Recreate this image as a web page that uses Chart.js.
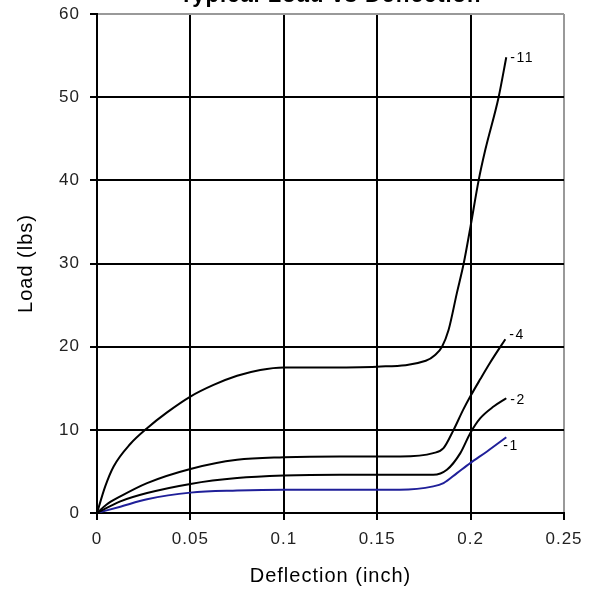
<!DOCTYPE html>
<html>
<head>
<meta charset="utf-8">
<script src="https://cdn.jsdelivr.net/npm/chart.js@4/dist/chart.umd.min.js"></script>
<style>
	html, body { margin: 0; padding: 0; background: #fff; overflow: hidden; }
	#wrap { position: absolute; left: 0; top: -24px; width: 595px; height: 614px; }
</style>
</head>
<body>
<div id="wrap"><canvas id="chart-area"></canvas></div>
<script>
// curve values (deflection in inch, load in lbs)
var defl11 = [0, 0.0044, 0.0089, 0.0178, 0.0268, 0.0375, 0.05, 0.0624, 0.075, 0.0874, 0.1, 0.12, 0.15, 0.176, 0.181, 0.1847, 0.1882, 0.1927, 0.1963, 0.2, 0.2043, 0.2079, 0.215, 0.2191];
var load11 = [0, 3.2, 5.6, 8.3, 10.2, 12.1, 14.0, 15.4, 16.5, 17.2, 17.5, 17.5, 17.6, 18.3, 19.0, 20.0, 22.0, 26.5, 30.0, 34.5, 40.0, 43.7, 50.0, 54.8];

var defl4 = [0, 0.005, 0.0125, 0.0268, 0.05, 0.075, 0.1, 0.13, 0.1624, 0.18, 0.1855, 0.1909, 0.196, 0.1998, 0.2052, 0.2105, 0.2186];
var load4 = [0, 1.0, 2.0, 3.6, 5.3, 6.4, 6.7, 6.8, 6.8, 7.2, 7.8, 10.0, 12.4, 14.0, 16.1, 18.1, 20.9];

var defl2 = [0, 0.0125, 0.0268, 0.05, 0.075, 0.1, 0.13, 0.162, 0.18, 0.1873, 0.1945, 0.1998, 0.2052, 0.2123, 0.2191];
var load2 = [0, 1.4, 2.4, 3.5, 4.2, 4.5, 4.6, 4.6, 4.6, 5.2, 7.2, 9.6, 11.4, 12.8, 13.8];

var defl1 = [0, 0.0125, 0.0268, 0.05, 0.075, 0.1, 0.13, 0.162, 0.18, 0.1855, 0.1927, 0.1998, 0.2088, 0.2191];
var load1 = [0, 0.76, 1.65, 2.45, 2.7, 2.8, 2.8, 2.8, 3.2, 3.6, 4.8, 6.0, 7.4, 9.1];

var seriesNames = ['-11', '-4', '-2', '-1'];
var xTicks = [0, 0.05, 0.1, 0.15, 0.2, 0.25];
var yTicks = [0, 10, 20, 30, 40, 50, 60];

function toPoints(xs, ys) {
	var pts = [];
	for (var i = 0; i < xs.length; i++) {
		pts.push({ x: xs[i], y: ys[i] });
	}
	return pts;
}

function line(name, xs, ys, color) {
	return {
		label: name,
		data: toPoints(xs, ys),
		borderColor: color,
		borderWidth: 2,
		pointRadius: 0,
		fill: false,
		cubicInterpolationMode: 'monotone'
	};
}

// the old excel look has a bit of spacing between letters
var spacing = {
	id: 'spacing',
	beforeUpdate: function (chart) { chart.ctx.letterSpacing = '1px'; },
	beforeDraw: function (chart) { chart.ctx.letterSpacing = '1px'; }
};

// little "-11" etc labels at the end of each curve
var endLabels = {
	id: 'endLabels',
	afterDatasetsDraw: function (chart) {
		var ctx = chart.ctx;
		var offsets = [[4, 1], [4, -4], [4, 2], [-3, 9]];
		ctx.save();
		ctx.font = '14px "Liberation Sans", Arial, sans-serif';
		ctx.fillStyle = '#000';
		ctx.textBaseline = 'middle';
		ctx.letterSpacing = '1.5px';
		chart.data.datasets.forEach(function (ds, i) {
			var pts = chart.getDatasetMeta(i).data;
			var last = pts[pts.length - 1];
			ctx.fillText(ds.label, last.x + offsets[i][0], last.y + offsets[i][1]);
		});
		ctx.restore();
	}
};

Chart.defaults.font.family = '"Liberation Sans", Arial, sans-serif';
Chart.defaults.color = '#000';

var config = {
	type: 'line',
	data: {
		datasets: [
			line(seriesNames[0], defl11, load11, '#000'),
			line(seriesNames[1], defl4, load4, '#000'),
			line(seriesNames[2], defl2, load2, '#000'),
			line(seriesNames[3], defl1, load1, '#1f1f99')
		]
	},
	options: {
		responsive: true,
		maintainAspectRatio: false,
		animation: false,
		layout: { padding: { left: 0, right: 31, top: 0, bottom: 0 } },
		plugins: {
			legend: { display: false },
			tooltip: { enabled: false },
			title: {
				display: true,
				fullSize: false,
				text: 'Typical Load vs Deflection',
				font: { size: 22, weight: 'bold' },
				color: '#000',
				padding: { top: 7, bottom: 4.6 }
			}
		},
		scales: {
			x: {
				type: 'linear',
				min: 0,
				max: 0.25,
				afterBuildTicks: function (scale) {
					scale.ticks = xTicks.map(function (v) { return { value: v }; });
				},
				afterFit: function (scale) { scale.height = 77; },
				ticks: {
					padding: 9,
					font: { size: 17 },
					color: '#222',
					callback: function (v) { return String(Number(v.toFixed(2))); }
				},
				grid: {
					color: function (c) { return c.tick && c.tick.value === 0.25 ? '#999' : '#000'; },
					tickColor: '#000',
					lineWidth: 2,
					tickLength: 7
				},
				border: { color: '#000', width: 2 },
				title: {
					display: true,
					text: 'Deflection (inch)',
					font: { size: 20 },
					color: '#000',
					padding: { top: 0, bottom: 2 }
				}
			},
			y: {
				type: 'linear',
				min: 0,
				max: 60,
				afterBuildTicks: function (scale) {
					scale.ticks = yTicks.map(function (v) { return { value: v }; });
				},
				afterFit: function (scale) { scale.width = 97; },
				ticks: {
					padding: 10,
					font: { size: 17 },
					color: '#222'
				},
				grid: {
					color: function (c) { return c.tick && c.tick.value === 60 ? '#999' : '#000'; },
					tickColor: '#000',
					lineWidth: 2,
					tickLength: 7
				},
				border: { color: '#000', width: 2 },
				title: {
					display: true,
					text: 'Load (lbs)',
					font: { size: 20 },
					color: '#000',
					padding: { top: 14, bottom: 0 }
				}
			}
		}
	},
	plugins: [spacing, endLabels]
};

var ctx = document.getElementById('chart-area').getContext('2d');
window.myChart = new Chart(ctx, config);
</script>
</body>
</html>
